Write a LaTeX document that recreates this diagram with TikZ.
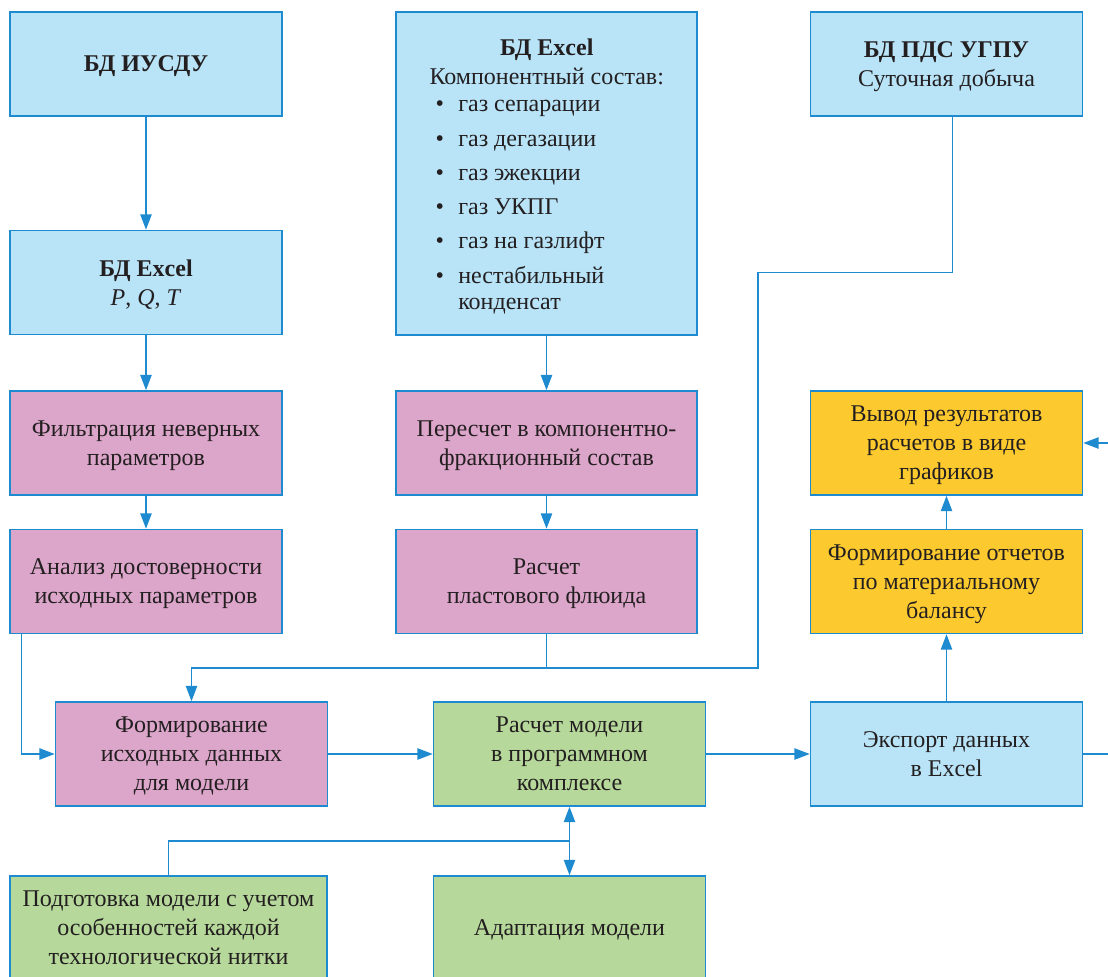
\documentclass[tikz,border=0pt]{standalone}
\usepackage{fontspec}
\setmainfont{Liberation Serif}
\usetikzlibrary{arrows.meta}
\definecolor{linec}{HTML}{1E8AD0}
\definecolor{textc}{HTML}{231F20}
\definecolor{dbfill}{HTML}{B9E4F8}
\definecolor{prepfill}{HTML}{DCA5CA}
\definecolor{modelfill}{HTML}{B6D99B}
\definecolor{repfill}{HTML}{FCC92E}
\tikzset{
  basic/.style    = {draw=linec, line width=1.2pt, rectangle, align=center, text=textc,
                     font=\fontsize{18}{21.75}\selectfont, inner sep=2pt, text depth=0pt,
                     minimum width=204pt, minimum height=78pt},
  dbbox/.style    = {basic, fill=dbfill},
  prepbox/.style  = {basic, fill=prepfill},
  modelbox/.style = {basic, fill=modelfill},
  repbox/.style   = {basic, fill=repfill},
  wide/.style     = {minimum width=225.75pt},
  conn/.style     = {draw=linec, line width=1pt}
}
\newcommand{\bitem}[1]{\hspace*{4pt}\makebox[17pt][l]{\textbullet}#1}

\begin{document}
\begin{tikzpicture}[x=0.75pt, y=-0.75pt, >={Triangle[length=11.5pt,width=8.5pt]}]
  \useasboundingbox (0,0) rectangle (1108,977);
  \clip (0,0) rectangle (1108,977);
  % data sources
  \node[dbbox] (iusdu) at (146,64) {\textbf{БД ИУСДУ}};
  \node[dbbox] (pqt) at (146,282.5) {\textbf{БД Excel}\\\textit{P}, \textit{Q}, \textit{T}};
  \node[dbbox, wide, minimum height=242.25pt] (sostav) at (546.5,173.5) {};
  \node[anchor=north west, inner sep=0pt, align=left, text=textc,
        font=\fontsize{18}{19.5}\selectfont] (sostavtxt) at (430,39)
    {\makebox[174.75pt]{\textbf{БД Excel}}\\[2.25pt]
     \makebox[174.75pt]{Компонентный состав:}\\[0.75pt]
     \bitem{газ сепарации}\\[6.2pt]
     \bitem{газ дегазации}\\[6.2pt]
     \bitem{газ эжекции}\\[6.2pt]
     \bitem{газ УКПГ}\\[6.2pt]
     \bitem{газ на газлифт}\\[6.2pt]
     \bitem{нестабильный}\\
     \hspace*{21pt}конденсат};
  \node[dbbox] (pds) at (946.5,64) {\textbf{БД ПДС УГПУ}\\Суточная добыча};
  % preparation
  \node[prepbox] (filtr) at (146,443) {Фильтрация неверных\\параметров};
  \node[prepbox] (analiz) at (146,581.5) {Анализ достоверности\\исходных параметров};
  \node[prepbox, wide] (pereschet) at (546.5,443) {Пересчет в компонентно-\\фракционный состав};
  \node[prepbox, wide] (flyuid) at (546.5,581.5) {Расчет\\пластового флюида};
  \node[prepbox] (ishod) at (191.5,754) {Формирование\\исходных данных\\для модели};
  % model
  \node[modelbox] (raschet) at (569.5,754) {Расчет модели\\в программном\\комплексе};
  \node[modelbox, minimum width=237.75pt] (podgot) at (168.5,928) {Подготовка модели с учетом\\особенностей каждой\\технологической нитки};
  \node[modelbox] (adapt) at (569.5,928) {Адаптация модели};
  % reports
  \node[dbbox] (export) at (946.5,754) {Экспорт данных\\в Excel};
  \node[repbox] (otchet) at (946.5,581.5) {Формирование отчетов\\по материальному\\балансу};
  \node[repbox] (vyvod) at (946.5,443) {Вывод результатов\\расчетов в виде\\графиков};
  \coordinate (j1) at (546.5,668);
  \coordinate (j2) at (569.5,841);
  \coordinate (r1) at (1116,754);
  % connectors
  \begin{scope}[every path/.style={conn}]
    \draw[->] (iusdu) -- (pqt);
    \draw[->] (pqt) -- (filtr);
    \draw[->] (filtr) -- (analiz);
    \draw[->] ([xshift=9pt]analiz.south west) |- (ishod.west);
    \draw[->] (sostav) -- (pereschet);
    \draw[->] (pereschet) -- (flyuid);
    \draw (flyuid) -- (j1);
    \draw[->] ([xshift=4.5pt]pds.south) -- ++(0,156) -| (758,668) -| (ishod.north);
    \draw[->] (ishod) -- (raschet);
    \draw[->] (raschet) -- (export);
    \draw[->] (export) -- (otchet);
    \draw[->] (otchet) -- (vyvod);
    \draw[->] (export.east) -- (r1) |- (vyvod.east);
    \draw (podgot.north) |- (j2);
    \draw[->] (j2) -- (raschet.south);
    \draw[->] (j2) -- (adapt.north);
  \end{scope}
\end{tikzpicture}
\end{document}
